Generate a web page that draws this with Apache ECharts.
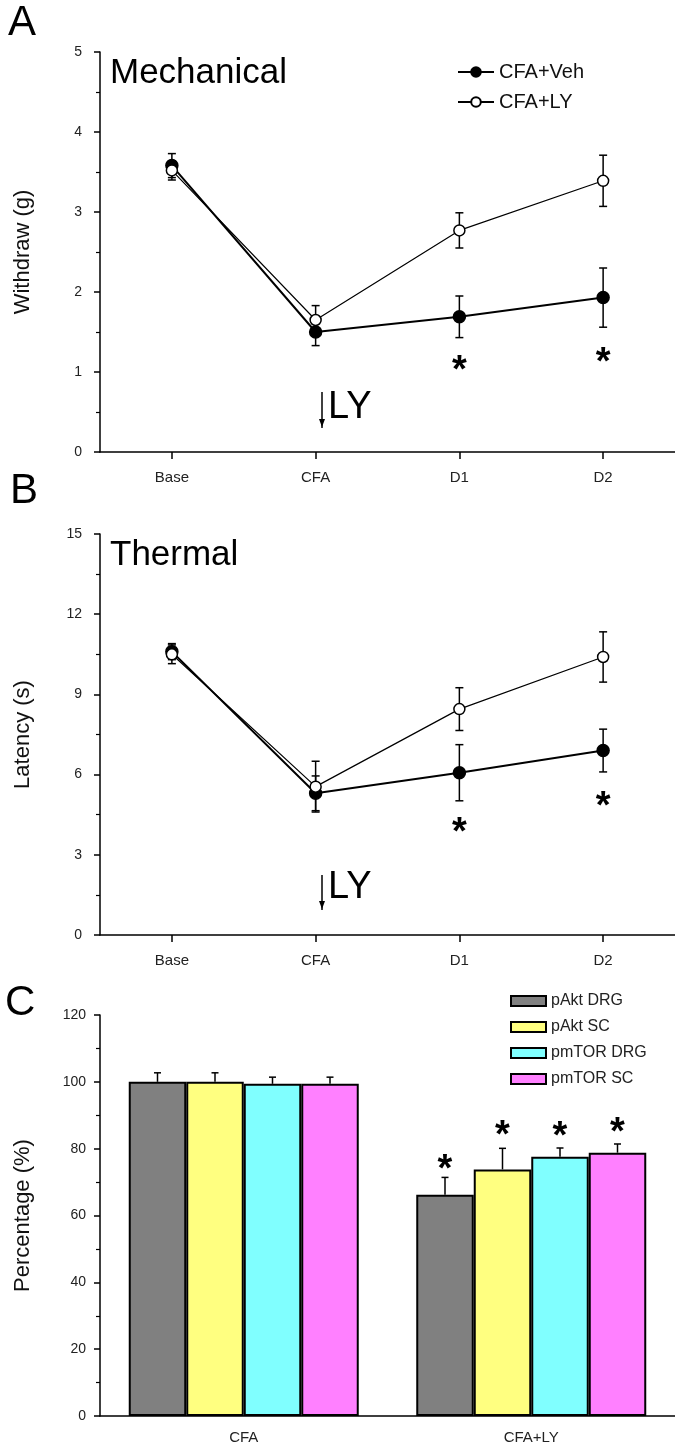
<!DOCTYPE html>
<html><head><meta charset="utf-8">
<script src="https://cdn.jsdelivr.net/npm/echarts@6/dist/echarts.min.js"></script>
<style>html,body{margin:0;padding:0;background:#fff}#c{width:675px;height:1451px}</style>
</head><body><div id="c"></div>
<script>
// ---------- data ----------
const timeCats = ['Base', 'CFA', 'D1', 'D2'];
const mechTicks = [0, 1, 2, 3, 4, 5];
const mechVeh = [3.58, 1.50, 1.69, 1.93];
const mechVehErr = [0.15, 0.17, 0.26, 0.37];
const mechLY = [3.52, 1.65, 2.77, 3.39];
const mechLYErr = [0.12, 0.18, 0.22, 0.32];
const mechStars = [[2, 1.10], [3, 1.21]];

const thermTicks = [0, 3, 6, 9, 12, 15];
const thermVeh = [10.6, 5.3, 6.07, 6.9];
const thermVehErr = [0.3, 0.65, 1.05, 0.8];
const thermLY = [10.5, 5.55, 8.45, 10.4];
const thermLYErr = [0.35, 0.95, 0.8, 0.94];
const thermStars = [[2, 4.1], [3, 5.05]];

const barCats = ['CFA', 'CFA+LY'];
const barNames = ['pAkt DRG', 'pAkt SC', 'pmTOR DRG', 'pmTOR SC'];
const pAktDRG = [100, 66.2];
const pAktDRGErr = [2.7, 5.2];
const pAktSC = [100, 73.8];
const pAktSCErr = [2.7, 6.3];
const pmTORDRG = [99.4, 77.6];
const pmTORDRGErr = [2.0, 2.6];
const pmTORSC = [99.4, 78.8];
const pmTORSCErr = [2.0, 2.6];
const barStars = [[1, 76], [1, 86], [1, 85.6], [1, 87]];
const barColors = ['#808080', '#ffff80', '#80ffff', '#ff80ff'];

// ---------- helpers ----------
const FONT = 'Liberation Sans, Arial, sans-serif';
const chart = echarts.init(document.getElementById('c'), null, {renderer: 'canvas'});

function errSeries(gi, vals, errs, z) {
  return {
    type: 'custom', xAxisIndex: gi, yAxisIndex: gi, z: z, silent: true,
    data: vals.map((v, i) => [i, v, errs[i]]),
    renderItem: function (params, api) {
      const x = api.value(0), y = api.value(1), e = api.value(2);
      const t = api.coord([x, y + e]), b = api.coord([x, y - e]);
      const c = 4;
      const st = {stroke: '#000', lineWidth: 1.5};
      return {type: 'group', children: [
        {type: 'line', shape: {x1: t[0], y1: t[1], x2: b[0], y2: b[1]}, style: st},
        {type: 'line', shape: {x1: t[0] - c, y1: t[1], x2: t[0] + c, y2: t[1]}, style: st},
        {type: 'line', shape: {x1: b[0] - c, y1: b[1], x2: b[0] + c, y2: b[1]}, style: st}
      ]};
    }
  };
}
function starSeries(gi, pts, offsetFn) {
  return {
    type: 'custom', xAxisIndex: gi, yAxisIndex: gi, z: 10, silent: true,
    data: pts,
    renderItem: function (params, api) {
      const p = api.coord([api.value(0), api.value(1)]);
      const dx = offsetFn ? offsetFn(params.dataIndex, api) : 0;
      return {type: 'text', style: {text: '*', x: p[0] + dx, y: p[1] + 8,
        font: 'bold 38px ' + FONT, fill: '#000', align: 'center', verticalAlign: 'middle'}};
    }
  };
}
function barErrSeries(k, vals, errs) {
  return {
    type: 'custom', xAxisIndex: 2, yAxisIndex: 2, z: 5, silent: true,
    data: vals.map((v, i) => [i, v, errs[i]]),
    renderItem: function (params, api) {
      const band = api.size([1, 0])[0];
      const group = band * 0.8, bw = group / 4;
      const dx = -group / 2 + bw * (k + 0.5);
      const t = api.coord([api.value(0), api.value(1) + api.value(2)]);
      const b = api.coord([api.value(0), api.value(1)]);
      const st = {stroke: '#000', lineWidth: 1.5};
      return {type: 'group', children: [
        {type: 'line', shape: {x1: t[0] + dx, y1: t[1], x2: b[0] + dx, y2: b[1]}, style: st},
        {type: 'line', shape: {x1: t[0] + dx - 3.5, y1: t[1], x2: t[0] + dx + 3.5, y2: t[1]}, style: st}
      ]};
    }
  };
}
function lineSeries(gi, name, vals, filled) {
  return {
    type: 'line', name: name, xAxisIndex: gi, yAxisIndex: gi, data: vals, z: 4,
    symbol: 'circle', symbolSize: filled ? 12 : 11, animation: false,
    lineStyle: {color: '#000', width: filled ? 2 : 1.2},
    itemStyle: {color: filled ? '#000' : '#fff', borderColor: '#000', borderWidth: 1.5}
  };
}
function xCat(gi, data, showTick, margin) {
  return {
    type: 'category', gridIndex: gi, data: data, boundaryGap: true,
    axisLine: {lineStyle: {color: '#000', width: 1.5}},
    axisTick: {show: showTick, alignWithLabel: true, length: 7, lineStyle: {color: '#000', width: 1.5}},
    axisLabel: {fontFamily: FONT, fontSize: 15, color: '#222', margin: margin}
  };
}
function yVal(gi, max, interval, name, labelMargin) {
  return {
    type: 'value', gridIndex: gi, min: 0, max: max, interval: interval,
    name: name, nameLocation: 'middle', nameGap: 66,
    nameTextStyle: {fontFamily: FONT, fontSize: 22, color: '#111'},
    axisLine: {show: true, lineStyle: {color: '#000', width: 1.5}},
    axisTick: {show: true, length: 6, lineStyle: {color: '#000', width: 1.5}},
    minorTick: {show: true, splitNumber: 2, length: 4, lineStyle: {color: '#000', width: 1.2}},
    splitLine: {show: false},
    axisLabel: {fontFamily: FONT, fontSize: 14, color: '#222', margin: labelMargin}
  };
}

const barVals = [pAktDRG, pAktSC, pmTORDRG, pmTORSC];
const barErrs = [pAktDRGErr, pAktSCErr, pmTORDRGErr, pmTORSCErr];

const series = [
  errSeries(0, mechVeh, mechVehErr, 2), errSeries(0, mechLY, mechLYErr, 2),
  lineSeries(0, 'CFA+Veh', mechVeh, true), lineSeries(0, 'CFA+LY', mechLY, false),
  starSeries(0, mechStars),
  errSeries(1, thermVeh, thermVehErr, 2), errSeries(1, thermLY, thermLYErr, 2),
  lineSeries(1, 'CFA+Veh', thermVeh, true), lineSeries(1, 'CFA+LY', thermLY, false),
  starSeries(1, thermStars)
];
barNames.forEach((n, k) => {
  series.push({
    type: 'bar', name: n, xAxisIndex: 2, yAxisIndex: 2, data: barVals[k],
    barCategoryGap: '20%', barGap: '0%', z: 3,
    itemStyle: {color: barColors[k], borderColor: '#000', borderWidth: 2}
  });
  series.push(barErrSeries(k, barVals[k], barErrs[k]));
});
series.push(starSeries(2, barStars, function (i, api) {
  const band = api.size([1, 0])[0];
  const group = band * 0.8, bw = group / 4;
  return -group / 2 + bw * (i + 0.5);
}));

function arrowLY(xArrow, yTop, yBot, textLeft, textTop) {
  return [
    {type: 'line', shape: {x1: xArrow, y1: yTop, x2: xArrow, y2: yBot}, style: {stroke: '#000', lineWidth: 1.5}},
    {type: 'polygon', shape: {points: [[xArrow - 3, yBot - 9], [xArrow + 3, yBot - 9], [xArrow, yBot - 1]]}, style: {fill: '#000'}},
    {type: 'text', left: textLeft, top: textTop, style: {text: 'LY', font: '38px ' + FONT, fill: '#000'}}
  ];
}

const option = {
  animation: false,
  backgroundColor: '#fff',
  grid: [
    {left: 100, top: 52, width: 575, height: 400},
    {left: 100, top: 534, width: 575, height: 401},
    {left: 100, top: 1015, width: 575, height: 401}
  ],
  xAxis: [xCat(0, timeCats, true, 18), xCat(1, timeCats, true, 18), xCat(2, barCats, false, 14)],
  yAxis: [yVal(0, 5, 1, 'Withdraw (g)', 18), yVal(1, 15, 3, 'Latency (s)', 18), yVal(2, 120, 20, 'Percentage (%)', 14)],
  legend: [
    {data: ['CFA+Veh', 'CFA+LY'], orient: 'vertical', left: 452, top: 57, itemWidth: 36, itemHeight: 12,
     itemGap: 10, textStyle: {fontFamily: FONT, fontSize: 20, color: '#111'}},
    {data: barNames, orient: 'vertical', left: 505, top: 988, itemWidth: 35, itemHeight: 10, itemGap: 10,
     icon: 'rect', textStyle: {fontFamily: FONT, fontSize: 16, color: '#222'}}
  ],
  graphic: [
    {type: 'text', left: 8, top: 2, style: {text: 'A', font: '42px ' + FONT, fill: '#000'}},
    {type: 'text', left: 10, top: 470, style: {text: 'B', font: '42px ' + FONT, fill: '#000'}},
    {type: 'text', left: 5, top: 982, style: {text: 'C', font: '42px ' + FONT, fill: '#000'}},
    {type: 'text', left: 110, top: 56, style: {text: 'Mechanical', font: '35px ' + FONT, fill: '#000'}},
    {type: 'text', left: 110, top: 538, style: {text: 'Thermal', font: '35px ' + FONT, fill: '#000'}}
  ].concat(arrowLY(322, 392, 428, 328, 389)).concat(arrowLY(322, 875, 910, 328, 869)),
  series: series
};
chart.setOption(option);
</script></body></html>
